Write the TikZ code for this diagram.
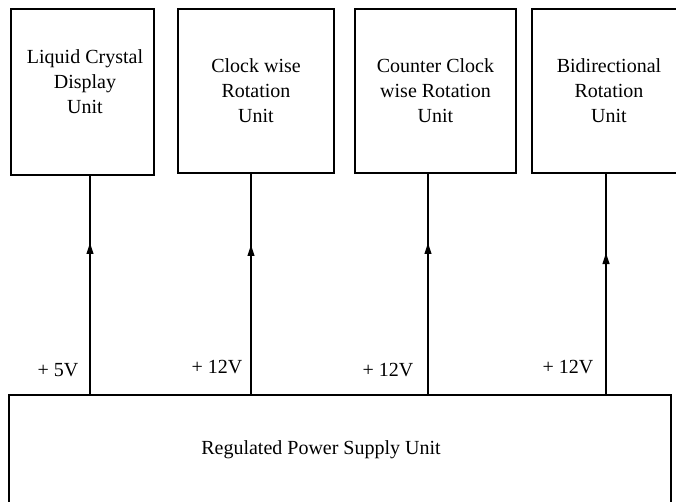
\documentclass[tikz,border=0pt]{standalone}
\usepackage{fontspec}
\setmainfont{Liberation Serif}
\usetikzlibrary{arrows.meta}

\begin{document}
\begin{tikzpicture}[x=1pt,y=-1pt,line width=1.1pt,every node/.style={font=\fontsize{20}{25}\selectfont,align=center},
unitbox/.style={draw,minimum width=#1,minimum height=164pt,inner sep=0pt},
feed/.style={-{Triangle[length=11pt,width=7pt]}}]
\useasboundingbox (0,0) rectangle (676,502);
\clip (0,0) rectangle (676,502);
\node[unitbox=143pt,minimum height=166pt] (lcd) at (82.5,92) {};
\node (lcdtxt) at (85,82) {Liquid Crystal\\Display\\Unit};
\node[unitbox=156pt] (cw) at (256,91) {Clock wise\\Rotation\\Unit};
\node[unitbox=161pt] (ccw) at (435.5,91) {Counter Clock\\wise Rotation\\Unit};
\node[unitbox=154pt] (bi) at (609,91) {Bidirectional\\Rotation\\Unit};
\node[draw,minimum width=662pt,minimum height=150pt,inner sep=0pt] (psu) at (340,470) {};
\node (psutxt) at (321,450) {Regulated Power Supply Unit};
% supply lines, arrow tip part way up
\coordinate (t1) at (90,243);
\coordinate (t2) at (251,245);
\coordinate (t3) at (428,243);
\coordinate (t4) at (606,253);
\draw (psu.north -| t1) -- (lcd.south -| t1);
\draw[feed] (psu.north -| t1) -- (t1);
\draw (psu.north -| t2) -- (cw.south -| t2);
\draw[feed] (psu.north -| t2) -- (t2);
\draw (psu.north -| t3) -- (ccw.south -| t3);
\draw[feed] (psu.north -| t3) -- (t3);
\draw (psu.north -| t4) -- (bi.south -| t4);
\draw[feed] (psu.north -| t4) -- (t4);
\node (v1) at (58,370) {+ 5V};
\node (v2) at (217,367) {+ 12V};
\node (v3) at (388,370) {+ 12V};
\node (v4) at (568,367) {+ 12V};
\end{tikzpicture}
\end{document}
